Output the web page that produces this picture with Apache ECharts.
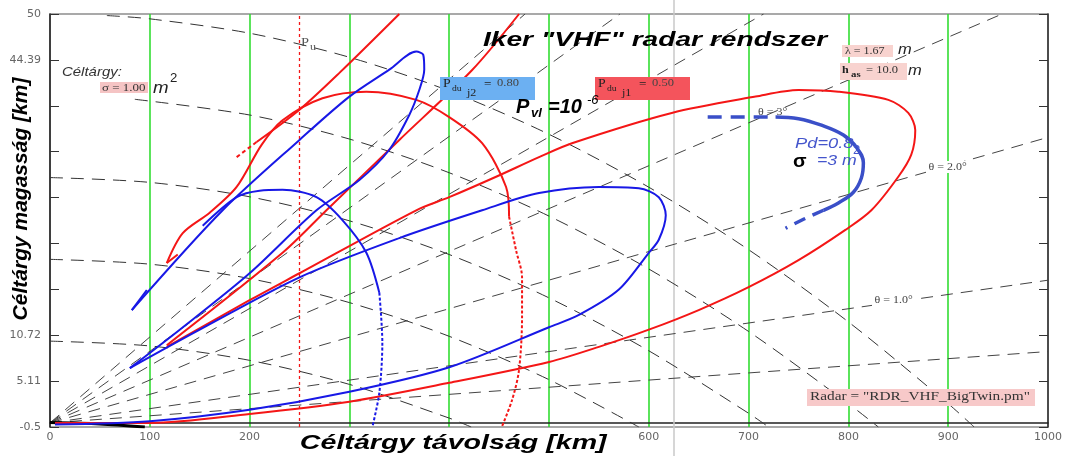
<!DOCTYPE html>
<html><head><meta charset="utf-8">
<script src="https://cdn.jsdelivr.net/npm/echarts@6/dist/echarts.min.js"></script>
<style>html,body{margin:0;padding:0;background:#fff}#c{width:1074px;height:456px}</style>
</head><body><div id="c"></div>
<script>
// ---- tick labels ----
const yTickLabels = ['-0.5','5.11','10.72','','','','','','44.39','50'];
const yTickInterval = 50.5 / 9;

// ---- elevation rays (theta) ----
const rayTheta05 = [[0,0],[1000,8.73]];
const rayTheta1  = [[0,0],[1000,17.45]];
const rayTheta2  = [[0,0],[1000,34.92]];
const rayTheta3  = [[0,0],[954,50]];
const rayTheta4  = [[0,0],[715,50]];
const rayTheta5  = [[0,0],[571,50]];
const rayTheta6  = [[0,0],[476,50]];

// ---- constant height lines ----
const height10 = [[0,10],[100,9.41],[200,7.65],[300,4.71],[400,0.59],[422,-0.5]];
const height20 = [[0,20],[100,19.41],[200,17.65],[300,14.71],[400,10.59],[500,5.29],[590,-0.5]];
const height30 = [[0,30],[100,29.41],[200,27.65],[300,24.71],[400,20.59],[500,15.29],[600,8.82],[700,1.18],[720,-0.5]];
const height40 = [[85,39.57],[200,37.65],[300,34.71],[400,30.59],[500,25.29],[600,18.82],[700,11.18],[800,2.35],[830,-0.5]];
const height50 = [[57,49.81],[100,49.41],[200,47.65],[300,44.71],[400,40.59],[500,35.29],[600,28.82],[700,21.18],[800,12.35],[900,2.35],[926,-0.5]];
const earthLine = [[0,0.05],[50,-0.12],[95,-0.5]];
const puLine = [[250,-0.5],[250,50]];

// ---- detection contours ----
const redLobe1 = [[5,0],[100,0],[200,1.1],[300,2.6],[400,4.9],[500,7.45],[550,9.3],[600,11.4],[650,13.8],[700,16.6],[750,19.9],[797,23.6],[823,26.0],[850,30.1],[863,32.8],[867,35.8],[860,37.9],[840,39.5],[790,40.5],[750,40.7],[707,39.9],[623,37.9],[523,34.2],[490,32.5],[447,30.1],[400,27.6],[367,26.0],[250,18.3],[200,15.0],[117,9.3]];
const blueLobe1 = [[5,-0.2],[100,0.2],[200,1.6],[300,3.8],[400,6.8],[500,11.7],[530,13.2],[570,16.3],[600,20.8],[610,22.4],[617,25.4],[610,27.6],[590,28.7],[550,28.85],[490,28.1],[433,26.0],[350,22.6],[250,17.8],[150,11.4],[80,6.7]];
const blueLobe2 = [[82,13.8],[173,26.0],[250,34.6],[300,39.9],[340,43.2],[367,45.4],[374,45.0],[375,43.2],[370,40.7],[360,37.65],[340,33.4],[310,29.7],[267,26.0],[200,18.3],[130,11.4],[80,6.7]];
const blueLobe2Tail = [[82,13.8],[97,16.25]];
const redLobe2Upper = [[207,34.35],[250,38.3],[290,42.8],[350,50]];
const redLobe2UpperDash = [[187,32.5],[207,34.35]];
const redLobe2Lower = [[117,9.5],[233,20.8],[277,26.0],[350,34.6],[423,43.15],[470,50]];
const redTwin = [[117,19.55],[133,23.2],[160,25.7],[187,28.85],[212,34.0],[233,37.0],[273,39.7],[317,40.5],[367,39.5],[400,37.4],[433,34.2],[457,28.85],[460,25.2]];
const redTwinTail = [[117,19.55],[128,20.6]];
const redTwinDotted = [[460,25.2],[467,21.1],[473,17.8],[473,13.0],[470,6.5],[463,2.8],[453,-0.4]];
const blueTwin = [[153,24.1],[187,27.6],[210,28.4],[233,28.5],[267,27.6],[293,24.8],[317,20.8],[330,15.9]];
const blueTwinDotted = [[330,15.9],[333,9.8],[330,3.7],[323,-0.5]];
const sigma3Dash1 = [[659,37.4],[727,37.4]];
const sigma3 = [[727,37.4],[750,37.2],[773,36.4],[795,35.2],[808,33.7],[815,31.8],[813,29.95],[805,28.2],[790,26.9],[775,26.0]];
const sigma3Dash2 = [[775,26.0],[755,24.9],[737,23.8]];

const RED = '#f41616', BLUE = '#1818e6', SIG = '#3a4fc8', DASHC = '#333';

function L(data, color, width, type, smooth, z) {
  return {type:'line', data:data, symbol:'none', showSymbol:false, silent:true, animation:false,
    smooth: smooth || false, z: z || 3, yAxisIndex:0,
    lineStyle:{color:color, width:width, type:type || 'solid', cap:'butt'}};
}

const series = [];
[rayTheta05, rayTheta1, rayTheta2, rayTheta3, rayTheta4, rayTheta5, rayTheta6].forEach(d => series.push(L(d, '#444', 1, [12,8], false, 2)));
[height10, height20, height30, height40, height50].forEach(d => series.push(L(d, DASHC, 1, [13,8], 0.3, 2)));
series.push(L(earthLine, '#000', 3, 'solid', 0.3, 3));
series.push(L(puLine, RED, 1.3, [3,3], false, 2));
series.push(L(redLobe1, RED, 2, 'solid', 0.3, 4));
series.push(L(blueLobe1, BLUE, 2, 'solid', 0.3, 5));
series.push(L(blueLobe2, BLUE, 2, 'solid', 0.3, 5));
series.push(L(blueLobe2Tail, BLUE, 2, 'solid', false, 5));
series.push(L(redLobe2Upper, RED, 2, 'solid', 0.3, 4));
series.push(L(redLobe2UpperDash, RED, 2, [4,3], false, 4));
series.push(L(redLobe2Lower, RED, 2, 'solid', 0.3, 4));
series.push(L(redTwin, RED, 2, 'solid', 0.3, 4));
series.push(L(redTwinTail, RED, 2, 'solid', false, 4));
series.push(L(redTwinDotted, RED, 2, [3,2], 0.3, 4));
series.push(L(blueTwin, BLUE, 2, 'solid', 0.3, 5));
series.push(L(blueTwinDotted, BLUE, 2, [3,2], 0.3, 5));
series.push(L(sigma3Dash1, SIG, 3.5, [14,9], false, 6));
series.push(L(sigma3, SIG, 3.5, 'solid', 0.4, 6));
series.push(L(sigma3Dash2, SIG, 3.5, [12,8], false, 6));

function T(x, y, text, font, fill, sx, extra) {
  const el = {type:'text', x:x, y:y, z:20, scaleX: sx || 1,
    style:{text:text, font:font, fill:fill, textAlign:'left', textVerticalAlign:'middle'}};
  if (extra) Object.assign(el.style, extra);
  return el;
}
function R(x, y, w, h, fill) {
  return {type:'rect', z:19, shape:{x:x, y:y, width:w, height:h}, style:{fill:fill}};
}
const SANS = '"Liberation Sans", Arial, sans-serif';
const SERIF = '"Liberation Serif", "DejaVu Serif", serif';

const graphics = [
  {type:'line', z:1, shape:{x1:674, y1:0, x2:674, y2:456}, style:{stroke:'#c9c9c9', lineWidth:1.5}},
  T(483, 40, 'Iker "VHF" radar rendszer', 'italic bold 21px ' + SANS, '#000', 1.34),
  T(297, 443, 'Céltárgy távolság [km]', 'italic bold 20px ' + SANS, '#000', 1.43, {backgroundColor:'#fff', padding:[5,2,2,2]}),
  {type:'text', x:21, y:199, z:20, rotation:Math.PI/2,
    style:{text:'Céltárgy magasság [km]', font:'italic bold 21px ' + SANS, fill:'#000', textAlign:'center', textVerticalAlign:'middle'}},
  T(62, 72, 'Céltárgy:', 'italic 13px ' + SANS, '#333', 1.15),
  R(100, 82, 48, 11, '#f5c4c4'),
  T(102, 88, 'σ = 1.00', '10px ' + SERIF, '#333', 1.3),
  T(153, 88, 'm', 'italic 17px ' + SANS, '#222', 1.1),
  T(170, 79, '2', '12px ' + SANS, '#222', 1.1),
  T(301, 43, 'P', '12px ' + SERIF, '#555', 1.2),
  T(310, 47, 'u', '10px ' + SERIF, '#555', 1.2),
  R(440, 77, 95, 23, '#6cb0f2'),
  T(443, 84, 'P', '12px ' + SERIF, '#222', 1.15),
  T(452, 89, 'du', '8px ' + SERIF, '#222', 1.2),
  T(467, 93, 'j2', '10px ' + SERIF, '#222', 1.2),
  T(484, 84, '=', 'bold 11px ' + SERIF, '#222', 1.2),
  T(497, 83, '0.80', '10px ' + SERIF, '#444', 1.25),
  R(595, 77, 95, 23, '#f4545c'),
  T(598, 84, 'P', '12px ' + SERIF, '#222', 1.15),
  T(607, 89, 'du', '8px ' + SERIF, '#222', 1.2),
  T(622, 93, 'j1', '10px ' + SERIF, '#222', 1.2),
  T(639, 84, '=', 'bold 11px ' + SERIF, '#222', 1.2),
  T(652, 83, '0.50', '10px ' + SERIF, '#444', 1.25),
  T(516, 107, 'P', 'italic bold 20px ' + SANS, '#000', 1.0),
  T(531, 113, 'vl', 'italic bold 13px ' + SANS, '#000', 1.0),
  T(548, 107, '=10', 'italic bold 20px ' + SANS, '#000', 1.0),
  T(587, 100, '-6', 'italic 13px ' + SANS, '#000', 1.0),
  R(842, 45, 51, 12, '#f8d3cf'),
  T(845, 51, 'λ = 1.67', '10px ' + SERIF, '#333', 1.2),
  T(898, 50, 'm', 'italic 15px ' + SANS, '#222', 1.1),
  R(840, 63, 67, 17, '#f8d3cf'),
  T(842, 70, 'h', 'bold 11px ' + SERIF, '#222', 1.1),
  T(851, 75, 'as', 'bold 9px ' + SERIF, '#222', 1.2),
  T(866, 70, '= 10.0', '10px ' + SERIF, '#333', 1.25),
  T(908, 71, 'm', 'italic 15px ' + SANS, '#222', 1.1),
  T(758, 112, 'θ = 3°', '10px ' + SERIF, '#444', 1.2),
  T(926, 167, 'θ = 2.0°', '10px ' + SERIF, '#444', 1.2, {backgroundColor:'#fff', padding:[1,2]}),
  T(872, 300, 'θ = 1.0°', '10px ' + SERIF, '#444', 1.2, {backgroundColor:'#fff', padding:[1,2]}),
  T(795, 144, 'Pd=0.8', 'italic 15px ' + SANS, '#4455cc', 1.22),
  T(853, 151, '2', '12px ' + SANS, '#4455cc', 1.1),
  T(793, 162, 'σ', 'bold 18px ' + SANS, '#000', 1.1),
  T(817, 161, '=3 m', 'italic 15px ' + SANS, '#4455cc', 1.18),
  R(807, 389, 228, 17, '#f7c9c9'),
  T(810, 397, 'Radar = "RDR_VHF_BigTwin.pm"', '13px ' + SERIF, '#333', 1.18)
];

const chart = echarts.init(document.getElementById('c'), null, {renderer:'canvas'});
chart.setOption({
  animation:false,
  backgroundColor:'#fff',
  grid:{left:50, right:26, top:14, bottom:29, show:true, borderColor:'#555', borderWidth:1.2, containLabel:false},
  xAxis:{type:'value', min:0, max:1000, interval:100,
    axisLine:{show:true, lineStyle:{color:'#222', width:1.5}},
    axisTick:{show:false},
    axisLabel:{color:'#666', fontFamily:'DejaVu Sans', fontSize:11, margin:5,
      formatter:function(v){ return String(v); }},
    splitLine:{show:true, showMinLine:false, showMaxLine:false, lineStyle:{color:'#33dd33', width:1.6}}},
  yAxis:[
    {type:'value', min:-0.5, max:50, show:false, splitLine:{show:false}},
    {type:'value', min:0, max:50.5, interval:yTickInterval, position:'left',
      axisLine:{show:true, lineStyle:{color:'#222', width:1.5}},
      axisTick:{show:true, inside:true, length:9, lineStyle:{color:'#333'}},
      splitLine:{show:false},
      axisLabel:{color:'#666', fontFamily:'DejaVu Sans', fontSize:11, margin:9,
        formatter:function(v){ const i = Math.round(v / yTickInterval); return yTickLabels[i] || ''; }}},
    {type:'value', min:0, max:50.5, interval:yTickInterval, position:'right',
      axisLine:{show:true, lineStyle:{color:'#333', width:1.5}},
      axisTick:{show:true, inside:true, length:9, lineStyle:{color:'#333'}},
      splitLine:{show:false}, axisLabel:{show:false}}
  ],
  series:series,
  graphic:{elements:graphics}
});
</script>
</body></html>
